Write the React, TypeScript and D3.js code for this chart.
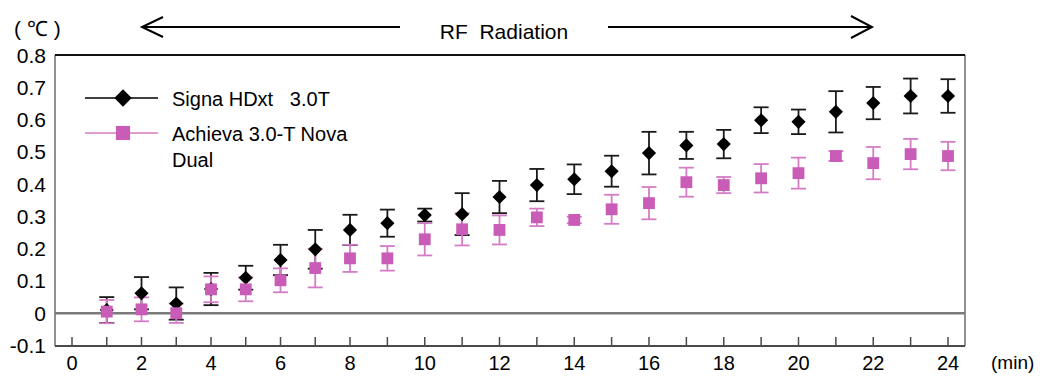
import * as d3 from "d3";

// time after start of RF radiation (min)
const minutes = [1, 2, 3, 4, 5, 6, 7, 8, 9, 10, 11, 12, 13, 14, 15, 16, 17, 18, 19, 20, 21, 22, 23, 24];

// temperature rise (°C), mean and SD
const signaMean = [0.01, 0.062, 0.03, 0.075, 0.11, 0.165, 0.198, 0.258, 0.279, 0.304, 0.307, 0.36, 0.397, 0.415, 0.44, 0.496, 0.52, 0.524, 0.598, 0.593, 0.624, 0.651, 0.673, 0.673];
const signaSD = [0.04, 0.05, 0.05, 0.05, 0.037, 0.047, 0.06, 0.047, 0.042, 0.02, 0.065, 0.05, 0.05, 0.046, 0.048, 0.066, 0.042, 0.044, 0.04, 0.038, 0.064, 0.05, 0.054, 0.052];
const achievaMean = [0.005, 0.012, 0.0, 0.074, 0.074, 0.102, 0.14, 0.17, 0.17, 0.229, 0.26, 0.258, 0.297, 0.289, 0.322, 0.341, 0.406, 0.397, 0.418, 0.434, 0.487, 0.465, 0.493, 0.487];
const achievaSD = [0.036, 0.037, 0.03, 0.04, 0.037, 0.037, 0.06, 0.042, 0.038, 0.05, 0.05, 0.045, 0.027, 0.01, 0.045, 0.05, 0.045, 0.025, 0.044, 0.048, 0.015, 0.05, 0.047, 0.044];

const xTicks = d3.range(0, 25);
const xLabels = d3.range(0, 25, 2);
const yLabels = [-0.1, 0, 0.1, 0.2, 0.3, 0.4, 0.5, 0.6, 0.7, 0.8];

const PINK = "#c95cb6";
const PINK_BAR = "#d57cc6";
const FONT = "'Liberation Sans', Arial, sans-serif";

export default function App() {
  const width = 1043,
    height = 376;
  const left = 55,
    right = 965,
    top = 55,
    bottom = 346;

  // the scanned axis is a little compressed before 8 min
  const x = d3.scaleLinear().domain([0, 8, 24]).range([72, 350, 948]);
  const y = d3.scaleLinear().domain([-0.1, 0.8]).range([bottom - 0.5, top]);

  const diamond = d3.symbol(d3.symbolSquare, 100)();
  const square = d3.symbol(d3.symbolSquare, 140)();
  const legDiamond = d3.symbol(d3.symbolSquare, 150)();
  const legSquare = d3.symbol(d3.symbolSquare, 200)();

  const series = [
    { name: "signa", mean: signaMean, sd: signaSD, color: "#000", bar: "#1a1a1a", path: diamond, rot: 45 },
    { name: "achieva", mean: achievaMean, sd: achievaSD, color: PINK, bar: PINK_BAR, path: square, rot: 0 },
  ];
  const cap = 7.5;

  return (
    <svg
      width={width}
      height={height}
      style={{ position: "absolute", left: 0, top: 0, background: "#fff" }}
      fontFamily={FONT}
    >
      {/* header */}
      <text x={14} y={36} fontSize={21} style={{ whiteSpace: "pre" }}>
        {"( ℃ )"}
      </text>
      <g stroke="#000" strokeWidth={2} fill="none">
        <line x1={142} y1={27} x2={400} y2={27} />
        <polyline points="163,17 142,27 163,37" />
        <line x1={608} y1={27} x2={872} y2={27} />
        <polyline points="851,16 872,27 851,38" />
      </g>
      <text x={504} y={39} fontSize={21} textAnchor="middle" style={{ whiteSpace: "pre" }}>
        {"RF  Radiation"}
      </text>

      {/* frame */}
      <line x1={left} y1={top} x2={left} y2={bottom} stroke="#6b6b6b" strokeWidth={1.5} />
      <line x1={right} y1={top} x2={right} y2={bottom} stroke="#6b6b6b" strokeWidth={1.5} />
      <line x1={left} y1={top} x2={right} y2={top} stroke="#111" strokeWidth={2} />
      <line x1={left} y1={bottom} x2={right} y2={bottom} stroke="#4a4a4a" strokeWidth={2} />
      <line x1={left} y1={y(0)} x2={right} y2={y(0)} stroke="#7a7a7a" strokeWidth={2.5} />

      {xTicks.map((t) => (
        <line key={t} x1={x(t)} x2={x(t)} y1={bottom - 9} y2={bottom} stroke="#4a4a4a" strokeWidth={1.5} />
      ))}
      {xLabels.map((t) => (
        <text key={t} x={x(t)} y={370} fontSize={20} textAnchor="middle">
          {t}
        </text>
      ))}
      <text x={991} y={369} fontSize={19}>
        (min)
      </text>
      {yLabels.map((t) => (
        <text key={t} x={46} y={y(t) + 7.5} fontSize={21} textAnchor="end">
          {d3.format(".1f")(t).replace(/^0\.0$/, "0").replace("−", "-")}
        </text>
      ))}

      {/* error bars then markers */}
      {series.map((s) => (
        <g key={s.name}>
          {minutes.map((m, i) => {
            const cx = x(m);
            const y1 = y(s.mean[i] + s.sd[i]);
            const y2 = y(s.mean[i] - s.sd[i]);
            return (
              <g key={m} stroke={s.bar} strokeWidth={1.8}>
                <line x1={cx} x2={cx} y1={y1} y2={y2} />
                <line x1={cx - cap} x2={cx + cap} y1={y1} y2={y1} />
                <line x1={cx - cap} x2={cx + cap} y1={y2} y2={y2} />
              </g>
            );
          })}
        </g>
      ))}
      {series.map((s) => (
        <g key={s.name + "-pts"}>
          {minutes.map((m, i) => (
            <path
              key={m}
              d={s.path as string}
              fill={s.color}
              transform={`translate(${x(m)},${y(s.mean[i])}) rotate(${s.rot})`}
            />
          ))}
        </g>
      ))}

      {/* legend */}
      <line x1={85} x2={158} y1={98} y2={98} stroke="#000" strokeWidth={1.5} />
      <path d={legDiamond as string} fill="#000" transform="translate(123,98) rotate(45)" />
      <text x={172} y={106} fontSize={20} style={{ whiteSpace: "pre" }}>
        {"Signa HDxt   3.0T"}
      </text>
      <line x1={85} x2={158} y1={133} y2={133} stroke={PINK_BAR} strokeWidth={1.5} />
      <path d={legSquare as string} fill={PINK} transform="translate(123,133)" />
      <text x={172} y={141} fontSize={20}>
        Achieva 3.0-T Nova
      </text>
      <text x={172} y={167} fontSize={20}>
        Dual
      </text>
    </svg>
  );
}
